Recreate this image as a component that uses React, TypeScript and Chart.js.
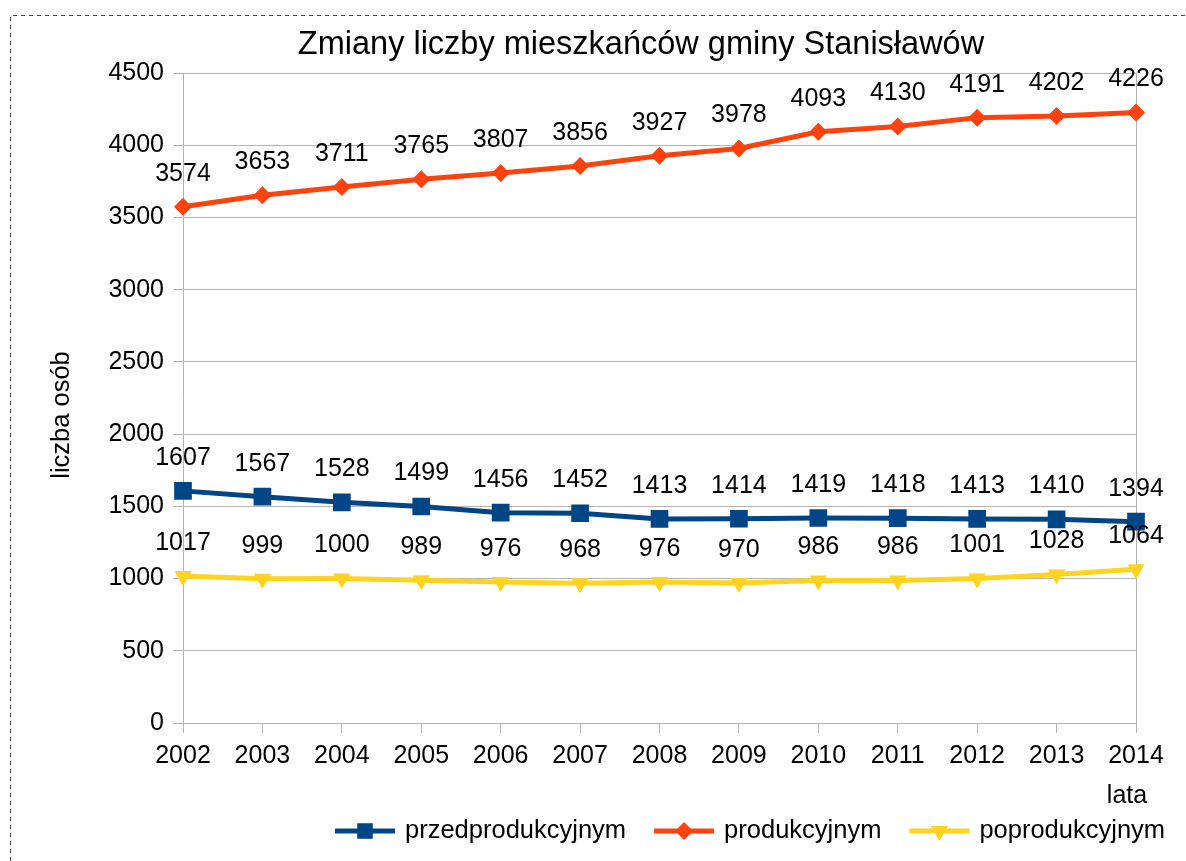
import React, { useEffect, useRef } from 'react';
import { Chart, registerables } from 'chart.js';

Chart.register(...registerables);

const years = ['2002', '2003', '2004', '2005', '2006', '2007', '2008', '2009', '2010', '2011', '2012', '2013', '2014'];
const przedprodukcyjnym = [1607, 1567, 1528, 1499, 1456, 1452, 1413, 1414, 1419, 1418, 1413, 1410, 1394];
const produkcyjnym = [3574, 3653, 3711, 3765, 3807, 3856, 3927, 3978, 4093, 4130, 4191, 4202, 4226];
const poprodukcyjnym = [1017, 999, 1000, 989, 976, 968, 976, 970, 986, 986, 1001, 1028, 1064];
const seriesNames = ['przedprodukcyjnym', 'produkcyjnym', 'poprodukcyjnym'];
const titleText = 'Zmiany liczby mieszkańców gminy Stanisławów';
const yTitle = 'liczba osób';
const xTitle = 'lata';

const FONT = '"Liberation Sans", Arial, sans-serif';
const GRID = '#b3b3b3';
const BLUE = '#004586';
const ORANGE = '#ff420e';
const YELLOW = '#ffd320';

function drawMarker(ctx: CanvasRenderingContext2D, kind: string, x: number, y: number, r: number, color: string) {
  ctx.save();
  ctx.fillStyle = color;
  ctx.beginPath();
  if (kind === 'rect') {
    const s = r * Math.SQRT1_2;
    ctx.rect(x - s, y - s, 2 * s, 2 * s);
  } else if (kind === 'rectRot') {
    ctx.moveTo(x - r, y);
    ctx.lineTo(x, y - r);
    ctx.lineTo(x + r, y);
    ctx.lineTo(x, y + r);
    ctx.closePath();
  } else {
    ctx.moveTo(x, y + r);
    ctx.lineTo(x - r * Math.sin(Math.PI / 3), y - r / 2);
    ctx.lineTo(x + r * Math.sin(Math.PI / 3), y - r / 2);
    ctx.closePath();
  }
  ctx.fill();
  ctx.restore();
}

const decor = {
  id: 'decor',
  beforeDraw(chart: any) {
    const ctx = chart.ctx as CanvasRenderingContext2D;
    ctx.save();
    ctx.fillStyle = '#fff';
    ctx.fillRect(0, 0, chart.width, chart.height);
    ctx.strokeStyle = '#444';
    ctx.lineWidth = 1;
    ctx.setLineDash([4, 4]);
    ctx.beginPath();
    ctx.moveTo(10.5, chart.height);
    ctx.lineTo(10.5, 15.5);
    ctx.lineTo(chart.width, 15.5);
    ctx.stroke();
    ctx.restore();
  },
  afterDatasetsDraw(chart: any) {
    const ctx = chart.ctx as CanvasRenderingContext2D;
    ctx.save();
    ctx.font = `25px ${FONT}`;
    ctx.fillStyle = '#000';
    ctx.textAlign = 'center';
    ctx.textBaseline = 'middle';
    chart.data.datasets.forEach((ds: any, i: number) => {
      const meta = chart.getDatasetMeta(i);
      meta.data.forEach((pt: any, j: number) => {
        ctx.fillText(String(ds.data[j]), pt.x, pt.y - 33);
      });
    });
    ctx.font = `32.5px ${FONT}`;
    ctx.fillText(titleText, 641, 45);
    ctx.font = `25px ${FONT}`;
    ctx.fillText(xTitle, 1127, 796);
    ctx.save();
    ctx.translate(62, 415);
    ctx.rotate(-Math.PI / 2);
    ctx.font = `25.5px ${FONT}`;
    ctx.fillText(yTitle, 0, 0);
    ctx.restore();
    const kinds = ['rect', 'rectRot', 'triangle'];
    const colors = [BLUE, ORANGE, YELLOW];
    const radii = [11, 9, 10];
    let x = 335;
    const ly = 831;
    ctx.font = `25.5px ${FONT}`;
    ctx.textAlign = 'left';
    for (let i = 0; i < 3; i++) {
      ctx.strokeStyle = colors[i];
      ctx.lineWidth = 5;
      ctx.beginPath();
      ctx.moveTo(x, ly);
      ctx.lineTo(x + 60, ly);
      ctx.stroke();
      drawMarker(ctx, kinds[i], x + 30, ly, radii[i], colors[i]);
      ctx.fillStyle = '#000';
      ctx.fillText(seriesNames[i], x + 70, ly);
      x += 70 + ctx.measureText(seriesNames[i]).width + 28;
    }
    ctx.restore();
  },
};

export default function App() {
  const ref = useRef<HTMLCanvasElement>(null);
  useEffect(() => {
    document.body.style.margin = '0';
    const canvas = ref.current!;
    const chart = new Chart(canvas, {
      type: 'line',
      data: {
        labels: years,
        datasets: [
          {
            label: seriesNames[0],
            data: przedprodukcyjnym,
            borderColor: BLUE,
            backgroundColor: BLUE,
            borderWidth: 5,
            pointStyle: 'rect',
            pointRadius: 12.5,
            pointBorderWidth: 0,
            tension: 0,
          },
          {
            label: seriesNames[1],
            data: produkcyjnym,
            borderColor: ORANGE,
            backgroundColor: ORANGE,
            borderWidth: 5,
            pointStyle: 'rectRot',
            pointRadius: 9,
            pointBorderWidth: 0,
            tension: 0,
          },
          {
            label: seriesNames[2],
            data: poprodukcyjnym,
            borderColor: YELLOW,
            backgroundColor: YELLOW,
            borderWidth: 5,
            pointStyle: 'triangle',
            pointRotation: 180,
            pointRadius: 10,
            pointBorderWidth: 0,
            tension: 0,
          },
        ],
      },
      options: {
        animation: false,
        responsive: false,
        layout: { padding: { left: 0, top: 73, right: 50, bottom: 0 } },
        plugins: { legend: { display: false }, title: { display: false }, tooltip: { enabled: false } },
        scales: {
          x: {
            type: 'category',
            offset: false,
            grid: {
              color: (c: any) => (c.index === years.length - 1 ? GRID : 'rgba(0,0,0,0)'),
              tickColor: GRID,
              tickLength: 10,
              lineWidth: 1,
            },
            border: { display: true, color: GRID },
            ticks: { color: '#000', font: { family: FONT, size: 25 }, padding: 8, maxRotation: 0, autoSkip: false },
            afterFit: (s: any) => { s.height = 138; },
          },
          y: {
            min: 0,
            max: 4500,
            ticks: {
              stepSize: 500,
              color: '#000',
              font: { family: FONT, size: 25 },
              padding: 9,
              callback: (v: any) => String(v),
            },
            grid: { color: GRID, tickColor: GRID, tickLength: 10 },
            border: { display: true, color: GRID },
            afterFit: (s: any) => { s.width = 183; },
          },
        },
      },
      plugins: [decor],
    } as any);
    return () => chart.destroy();
  }, []);
  return <canvas ref={ref} width={1186} height={861} style={{ display: 'block' }} />;
}
